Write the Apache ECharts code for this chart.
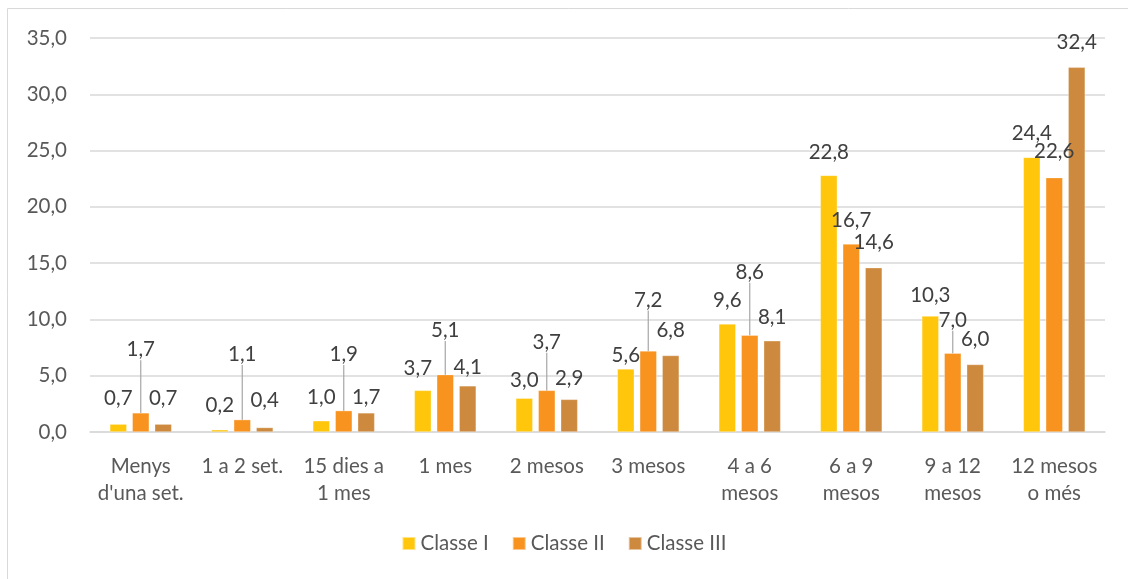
<!DOCTYPE html>
<html>
<head>
<meta charset="utf-8">
<script src="https://cdn.jsdelivr.net/npm/echarts@6/dist/echarts.min.js"></script>
<style>
  html, body { margin: 0; padding: 0; background: #fff; }
  #chart { width: 1128px; height: 579px; }
</style>
</head>
<body>
<div id="chart"></div>
<script>
// Durada de l'atur per classe
const categories = ["Menys\nd'una set.", "1 a 2 set.", "15 dies a\n1 mes", "1 mes", "2 mesos",
  "3 mesos", "4 a 6\nmesos", "6 a 9\nmesos", "9 a 12\nmesos", "12 mesos\no més"];
const seriesNames = ["Classe I", "Classe II", "Classe III"];
const classe1 = [0.7, 0.2, 1.0, 3.7, 3.0, 5.6, 9.6, 22.8, 10.3, 24.4];
const classe2 = [1.7, 1.1, 1.9, 5.1, 3.7, 7.2, 8.6, 16.7, 7.0, 22.6];
const classe3 = [0.7, 0.4, 1.7, 4.1, 2.9, 6.8, 8.1, 14.6, 6.0, 32.4];
const yTicks = [0, 5, 10, 15, 20, 25, 30, 35];

// How far (px) each value label sits above its bar top (label centre)
const labelLift = [
  [26, 24, 23, 22, 18, 14, 24, 23, 21, 24],
  [63, 65, 56, 44, 48, 51, 63, 24, 33, 26],
  [26, 27, 15, 18, 21, 25, 23, 25, 25, 25]
];
const labelShift = [
  [0, 0, 0, -5, 0, 0, 0, 0, 0, 0],
  [0, 0, 0, 0, 0, 0, 0, 0, 0, 0],
  [0, 0, 0, 0, 0, 0, 0, 0, 0, 0]
];

const colors = ['#FFC60B', '#F7931E', '#CD8A3E'];
const font = 'Lato, "Liberation Sans", sans-serif';
const fs = 20.5;
const fmt = v => v.toFixed(1).replace('.', ',');

function makeSeries(idx, values) {
  return {
    name: seriesNames[idx],
    type: 'bar',
    barWidth: 17,
    barGap: '32%',
    itemStyle: { color: colors[idx], borderColor: 'rgba(255,255,255,0.5)', borderWidth: 0.6 },
    data: values.map((v, i) => ({
      value: v,
      labelLine: { show: idx === 1 && labelLift[idx][i] > 30 }
    })),
    label: {
      show: true,
      position: 'top',
      formatter: p => fmt(p.value),
      color: '#404040',
      fontSize: fs,
      fontFamily: font
    },
    labelLine: {
      show: false,
      lineStyle: { color: '#A6A6A6', width: 1.2 }
    },
    labelLayout: p => ({
      x: p.rect.x + p.rect.width / 2 + labelShift[idx][p.dataIndex],
      y: p.rect.y - labelLift[idx][p.dataIndex],
      align: 'center',
      verticalAlign: 'middle'
    })
  };
}

const chart = echarts.init(document.getElementById('chart'), null, { renderer: 'canvas' });
chart.setOption({
  animation: false,
  backgroundColor: '#fff',
  graphic: [{
    type: 'rect',
    shape: { x: 7.5, y: 8.5, width: 1300, height: 800 },
    style: { fill: 'none', stroke: '#D9D9D9', lineWidth: 1 },
    silent: true,
    z: -1
  }],
  grid: { left: 90, right: 23, top: 38, bottom: 147, containLabel: false },
  legend: {
    bottom: 20,
    left: 'center',
    itemWidth: 13,
    itemHeight: 13,
    itemGap: 23,
    icon: 'rect',
    textStyle: { color: '#595959', fontSize: fs, fontFamily: font },
    data: seriesNames
  },
  xAxis: {
    type: 'category',
    data: categories,
    axisLine: { lineStyle: { color: '#D9D9D9', width: 1.5 } },
    axisTick: { show: false },
    axisLabel: {
      color: '#595959',
      fontSize: fs,
      fontFamily: font,
      margin: 21,
      lineHeight: 27,
      interval: 0
    }
  },
  yAxis: {
    type: 'value',
    min: yTicks[0],
    max: yTicks[yTicks.length - 1],
    interval: 5,
    axisLine: { show: false },
    axisTick: { show: false },
    splitLine: { lineStyle: { color: '#D9D9D9', width: 1.5 } },
    axisLabel: {
      color: '#595959',
      fontSize: fs,
      fontFamily: font,
      margin: 23,
      formatter: v => fmt(v)
    }
  },
  series: [makeSeries(0, classe1), makeSeries(1, classe2), makeSeries(2, classe3)]
});
</script>
</body>
</html>
